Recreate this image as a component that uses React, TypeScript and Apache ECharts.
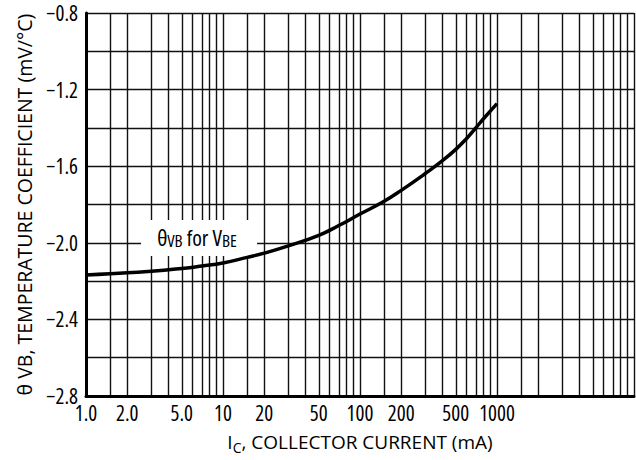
import React, { useEffect, useRef } from 'react';
import * as echarts from 'echarts';

// Collector current (mA) and temperature coefficient (mV/°C)
const currents = [1, 1.5, 2, 3, 5, 7, 10, 15, 20, 30, 50, 70, 100, 150, 200, 300, 400, 500, 600, 700, 800, 1000];
const coeffs = [-2.168, -2.162, -2.156, -2.149, -2.134, -2.121, -2.105, -2.076, -2.054, -2.016, -1.961, -1.910, -1.850, -1.783, -1.726, -1.638, -1.571, -1.512, -1.455, -1.400, -1.351, -1.273];

// Grid lines of the log x-axis: 1, 1.5, 2, 3 ... 9 in each decade
const gridMultipliers = [1, 1.5, 2, 3, 4, 5, 6, 7, 8, 9];
const decades = [1, 10, 100, 1000];
const xTickLabels = [1, 2, 5, 10, 20, 50, 100, 200, 500, 1000];

// condensed face (tick labels, annotation) and regular face (axis titles)
const FONT_COND = '"Open Sans", Roboto, sans-serif';
const FONT_TITLE = '"Open Sans", sans-serif';

const measureCanvas = typeof document !== 'undefined' ? document.createElement('canvas') : null;
const mctx = measureCanvas ? measureCanvas.getContext('2d') : null;
if (mctx && (echarts as any).setPlatformAPI) {
  (echarts as any).setPlatformAPI({
    measureText(text: string, font?: string) {
      const f = font || '12px sans-serif';
      mctx.font = f;
      (mctx as any).fontStretch = f.indexOf('Roboto') >= 0 ? 'condensed' : 'normal';
      return mctx.measureText(text);
    },
  });
}

export default function App() {
  const ref = useRef<HTMLDivElement>(null);
  useEffect(() => {
    if (!ref.current) return;
    const chart = echarts.init(ref.current, undefined, { renderer: 'svg' });
    const xGrid: number[] = [];
    decades.forEach((d) => gridMultipliers.forEach((m) => xGrid.push(Math.round(d * m * 10) / 10)));
    xGrid.push(10000);

    chart.setOption({
      animation: false,
      backgroundColor: '#fff',
      grid: { left: 86, right: 2, top: 13, bottom: 64, containLabel: false },
      xAxis: {
        type: 'log',
        logBase: 10,
        min: 1,
        max: 10000,
        name: '{t|I}{s|C}{t|, COLLECTOR CURRENT (mA)}',
        nameLocation: 'middle',
        nameGap: 34,
        nameTextStyle: {
          fontFamily: FONT_TITLE,
          color: '#000',
          rich: {
            t: { fontFamily: FONT_TITLE, fontSize: 19, color: '#000', lineHeight: 24 },
            s: { fontFamily: FONT_TITLE, fontSize: 14, color: '#000', lineHeight: 15, verticalAlign: 'bottom' },
          },
        },
        axisLine: { show: true, lineStyle: { color: '#000', width: 3 } },
        axisTick: { show: false, customValues: xGrid },
        axisLabel: {
          customValues: xTickLabels,
          fontFamily: FONT_COND,
          fontSize: 21,
          color: '#000',
          margin: 6,
          formatter: (v: number) => (v < 10 ? v.toFixed(1) : String(Math.round(v))),
        },
        splitLine: { show: true, lineStyle: { color: '#111', width: 1.4 } },
        minorSplitLine: { show: false },
      },
      yAxis: {
        type: 'value',
        min: -2.8,
        max: -0.8,
        interval: 0.2,
        name: 'θ VB, TEMPERATURE COEFFICIENT (mV/°C)',
        nameLocation: 'middle',
        nameGap: 52,
        nameTextStyle: { fontFamily: FONT_TITLE, fontSize: 19.5, color: '#000' },
        axisLine: { show: true, lineStyle: { color: '#000', width: 3 } },
        axisTick: { show: false },
        axisLabel: {
          fontFamily: FONT_COND,
          fontSize: 21,
          color: '#000',
          margin: 8,
          formatter: (v: number) => {
            const k = Math.round(v * 10);
            return k % 4 === 0 ? '\u2212' + Math.abs(v).toFixed(1) : '';
          },
        },
        splitLine: { show: true, lineStyle: { color: '#111', width: 1.4 } },
      },
      graphic: [
        {
          type: 'rect',
          z: 1,
          shape: { x: 141, y: 220, width: 116, height: 36 },
          style: { fill: '#fff' },
        },
        {
          type: 'text',
          x: 197,
          y: 237,
          z: 10,
          style: {
            text: '{t|θ}{s|VB}{t| for V}{s|BE}',
            align: 'center',
            verticalAlign: 'middle',
            rich: {
              t: { fontFamily: FONT_COND, fontSize: 22, fill: '#000', lineHeight: 24 },
              s: { fontFamily: FONT_COND, fontSize: 17, fill: '#000', lineHeight: 16, verticalAlign: 'bottom' },
            },
          },
        },
      ],
      series: [
        {
          type: 'line',
          data: currents.map((c, i) => [c, coeffs[i]]),
          symbol: 'none',
          smooth: 0.5,
          lineStyle: { color: '#000', width: 3.5 },
          z: 5,
        },
      ],
    });
    return () => chart.dispose();
  }, []);
  return (
    <>
      <style>{'svg text[style*="Roboto"] { font-stretch: condensed !important; }'}</style>
      <div ref={ref} style={{ position: 'fixed', left: 0, top: 0, width: 636, height: 460 }} />
    </>
  );
}
